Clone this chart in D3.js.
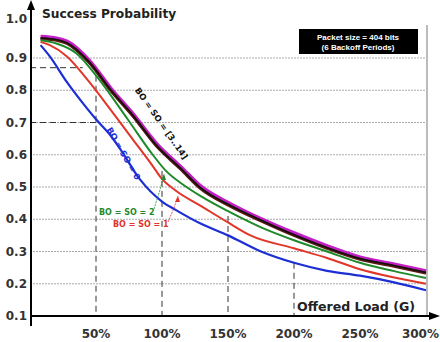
<!DOCTYPE html>
<html>
<head>
<meta charset="utf-8">
<script src="https://cdn.jsdelivr.net/npm/d3@7"></script>
<style>
  body { margin: 0; background: #fff; }
  text { font-family: "DejaVu Sans", Verdana, sans-serif; font-weight: bold; }
</style>
</head>
<body>
<div id="chart"></div>
<script>
// offered load (%) and success probability per BO = SO setting
const loadBlue = [8, 15, 28, 40, 50, 60, 68, 83, 100, 110, 130, 150, 175, 200, 225, 250, 275, 300];
const bo0 = [0.94, 0.905, 0.825, 0.76, 0.71, 0.665, 0.62, 0.525, 0.455, 0.43, 0.385, 0.35, 0.30, 0.265, 0.24, 0.225, 0.205, 0.18];

const loadRed = [8, 15, 28, 45, 61, 78, 93, 100, 110, 130, 150, 167, 200, 225, 250, 275, 300];
const bo1 = [0.95, 0.94, 0.905, 0.825, 0.74, 0.647, 0.565, 0.525, 0.49, 0.44, 0.39, 0.35, 0.31, 0.28, 0.245, 0.22, 0.20];

const loadGreen = [8, 20, 35, 53, 74, 93, 103, 115, 130, 150, 175, 200, 225, 250, 275, 300];
const bo2 = [0.955, 0.945, 0.915, 0.83, 0.71, 0.60, 0.55, 0.51, 0.47, 0.425, 0.375, 0.335, 0.30, 0.265, 0.24, 0.218];

const loadTop = [8, 20, 28, 45, 61, 78, 96, 114, 129, 152, 175, 200, 225, 250, 275, 300];
const bo3to14Magenta = [0.965, 0.96, 0.95, 0.89, 0.805, 0.725, 0.632, 0.562, 0.502, 0.446, 0.40, 0.356, 0.316, 0.281, 0.26, 0.238];
const bo3to14Brown = [0.96, 0.955, 0.945, 0.885, 0.80, 0.72, 0.626, 0.556, 0.496, 0.44, 0.395, 0.35, 0.31, 0.276, 0.255, 0.233];
const bo3to14Black = [0.962, 0.957, 0.947, 0.887, 0.802, 0.722, 0.628, 0.558, 0.498, 0.442, 0.397, 0.352, 0.312, 0.278, 0.257, 0.235];

const yTicks = [0.1, 0.2, 0.3, 0.4, 0.5, 0.6, 0.7, 0.8, 0.9, 1.0];
const xTicks = [50, 100, 150, 200, 250, 300];
const gridValues = [0.2, 0.3, 0.4, 0.5, 0.6, 0.7, 0.8, 0.9];

const width = 440;
const height = 342;

const x = d3.scaleLinear().domain([0, 300]).range([30, 426]);
const y = d3.scaleLinear().domain([0.1, 0.9]).range([316, 58]);

const svg = d3.select('#chart').append('svg')
  .attr('width', width)
  .attr('height', height);

// grid
svg.selectAll('.grid')
  .data(gridValues)
  .enter()
  .append('line')
  .attr('x1', x(0)).attr('x2', x(300))
  .attr('y1', d => y(d)).attr('y2', d => y(d))
  .attr('stroke', '#aaa')
  .attr('stroke-width', 1)
  .attr('stroke-dasharray', '2,1');

svg.append('line')
  .attr('x1', x(300) + 1).attr('x2', x(300) + 1)
  .attr('y1', 25).attr('y2', y(0.1))
  .attr('stroke', '#bbb').attr('stroke-width', 2);

// guide lines
const guides = [
  { x1: 0, y1: 0.87, x2: 40, y2: 0.87 },
  { x1: 0, y1: 0.70, x2: 50, y2: 0.70 },
  { x1: 50, y1: 0.845, x2: 50, y2: 0.1 },
  { x1: 100, y1: 0.55, x2: 100, y2: 0.1 },
  { x1: 150, y1: 0.41, x2: 150, y2: 0.1 },
  { x1: 200, y1: 0.265, x2: 200, y2: 0.1 }
];
svg.selectAll('.guide')
  .data(guides)
  .enter()
  .append('line')
  .attr('x1', d => x(d.x1)).attr('y1', d => y(d.y1))
  .attr('x2', d => x(d.x2)).attr('y2', d => y(d.y2))
  .attr('stroke', '#333')
  .attr('stroke-width', 1)
  .attr('stroke-dasharray', '6,4');

// curves
const series = [
  { xs: loadTop, ys: bo3to14Magenta, color: '#c21fc8', w: 4.5 },
  { xs: loadTop, ys: bo3to14Brown, color: '#5b1a12', w: 3 },
  { xs: loadTop, ys: bo3to14Black, color: '#111', w: 1.5 },
  { xs: loadGreen, ys: bo2, color: '#1f8a2b', w: 2 },
  { xs: loadRed, ys: bo1, color: '#e2352a', w: 2 },
  { xs: loadBlue, ys: bo0, color: '#1c2fd4', w: 2.2 }
];

const line = d3.line()
  .x(d => x(d[0]))
  .y(d => y(d[1]))
  .curve(d3.curveMonotoneX);

series.forEach(s => {
  svg.append('path')
    .datum(s.xs.map((v, i) => [v, s.ys[i]]))
    .attr('d', line)
    .attr('fill', 'none')
    .attr('stroke', s.color)
    .attr('stroke-width', s.w)
    .attr('stroke-linejoin', 'round');
});

// axes
svg.append('line')
  .attr('x1', x(0) + 1).attr('x2', x(0) + 1)
  .attr('y1', 326).attr('y2', 6)
  .attr('stroke', '#000').attr('stroke-width', 2);
svg.append('path')
  .attr('d', `M${x(0) + 1},0 L${x(0) - 3},10 L${x(0) + 5},10 Z`)
  .attr('fill', '#000');

svg.append('line')
  .attr('x1', x(0)).attr('x2', 432)
  .attr('y1', y(0.1)).attr('y2', y(0.1))
  .attr('stroke', '#000').attr('stroke-width', 2);
svg.append('path')
  .attr('d', `M440,${y(0.1)} L429,${y(0.1) - 4} L429,${y(0.1) + 4} Z`)
  .attr('fill', '#000');

// tick labels
svg.selectAll('.ylab')
  .data(yTicks)
  .enter()
  .append('text')
  .attr('x', 27)
  .attr('y', d => d === 1.0 ? 23 : y(d) + 4)
  .attr('text-anchor', 'end')
  .attr('font-size', 12)
  .attr('fill', '#333')
  .text(d => d3.format('.1f')(d));

svg.selectAll('.xlab')
  .data(xTicks)
  .enter()
  .append('text')
  .attr('x', d => d === 300 ? 439 : x(d))
  .attr('y', 338)
  .attr('text-anchor', d => d === 300 ? 'end' : 'middle')
  .attr('font-size', 12)
  .attr('fill', '#333')
  .text(d => d + '%');

// titles
svg.append('text')
  .attr('x', 42).attr('y', 18)
  .attr('font-size', 12.2)
  .attr('fill', '#222')
  .text('Success Probability');

svg.append('text')
  .attr('x', 297).attr('y', 311)
  .attr('font-size', 12.6)
  .attr('fill', '#222')
  .text('Offered Load (G)');

// packet box
svg.append('rect')
  .attr('x', 299).attr('y', 29)
  .attr('width', 119).attr('height', 25)
  .attr('fill', '#000');
svg.append('text')
  .attr('x', 358).attr('y', 40)
  .attr('text-anchor', 'middle')
  .attr('font-size', 8)
  .attr('fill', '#fff')
  .style('font-family', 'Arial, "Liberation Sans", sans-serif')
  .text('Packet size = 404 bits');
svg.append('text')
  .attr('x', 358).attr('y', 50)
  .attr('text-anchor', 'middle')
  .attr('font-size', 8)
  .attr('fill', '#fff')
  .style('font-family', 'Arial, "Liberation Sans", sans-serif')
  .text('(6 Backoff Periods)');

// curve labels
svg.append('text')
  .attr('transform', 'translate(159,125) rotate(55)')
  .attr('text-anchor', 'middle')
  .attr('font-size', 8.5)
  .attr('fill', '#111')
  .text('BO = SO = [3..14]');

svg.append('text')
  .attr('transform', 'translate(121,155) rotate(60)')
  .attr('text-anchor', 'middle')
  .attr('font-size', 8.5)
  .attr('fill', '#1c2fd4')
  .text('BO = SO = 0');

svg.append('text')
  .attr('x', 99).attr('y', 215)
  .attr('font-size', 8)
  .attr('fill', '#1f8a2b')
  .text('BO = SO = 2');

svg.append('text')
  .attr('x', 113).attr('y', 227)
  .attr('font-size', 8)
  .attr('fill', '#e2352a')
  .text('BO = SO = 1');

// leader lines
const leaders = [
  { color: '#1f8a2b', pts: [[154, 209], [160, 190], [164, 174]] },
  { color: '#e2352a', pts: [[168, 222], [174, 208], [178, 196]] }
];
leaders.forEach(l => {
  svg.append('path')
    .attr('d', d3.line()(l.pts))
    .attr('fill', 'none')
    .attr('stroke', l.color)
    .attr('stroke-width', 0.8)
    .attr('stroke-dasharray', '2,1');
  const p = l.pts[l.pts.length - 1];
  svg.append('path')
    .attr('d', `M${p[0]},${p[1]} l-3,6 l5,0 Z`)
    .attr('fill', l.color);
});
</script>
</body>
</html>
